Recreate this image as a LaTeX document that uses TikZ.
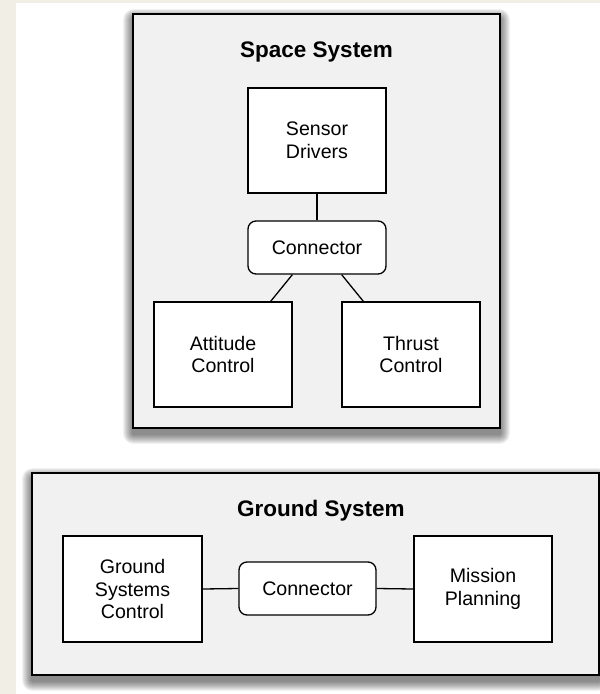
\documentclass[tikz,border=0pt]{standalone}
\usepackage{fontspec}
\setmainfont{Liberation Sans}
\usetikzlibrary{calc,backgrounds}
\definecolor{cream}{HTML}{F1EFE5}
\definecolor{panel}{HTML}{F1F1F1}
\tikzset{
  outerbox/.style={draw=black, line width=1.6pt, fill=panel, inner sep=0pt},
  compbox/.style={draw=black, line width=1.3pt, fill=white, inner sep=0pt, align=center,
    font=\fontsize{19.6}{22.8}\selectfont},
  connbox/.style={compbox, rounded corners=8pt},
  title/.style={font=\fontsize{22.5}{26}\selectfont\bfseries},
  link/.style={draw=black, line width=1.3pt},
  shadowlayer/.style={fill=black, fill opacity=0.055}
}
\newcommand{\boxshadow}[1]{%
  \foreach \k in {1,...,10}{%
    \fill[shadowlayer, rounded corners=\k pt] ($(#1.north west)+(-\k+1,6-\k)$) rectangle ($(#1.south east)+(\k-1,5+\k)$);
  }%
}
\begin{document}
\begin{tikzpicture}[x=1pt,y=-1pt]
\useasboundingbox (0,0) rectangle (600,694);
% Space system
\node[outerbox, minimum width=367pt, minimum height=414pt] (space) at (316.5,221) {};
\node[title] (spacet) at (316.5,52) {Space System};
\node[compbox, minimum width=138pt, minimum height=105pt] (sensor) at (317,140.5) {Sensor\\Drivers};
\node[connbox, minimum width=138pt, minimum height=53pt] (conn1) at (317,247.5) {Connector};
\node[compbox, minimum width=138pt, minimum height=105pt] (att) at (223,354.5) {Attitude\\Control};
\node[compbox, minimum width=138pt, minimum height=105pt] (thr) at (411,354.5) {Thrust\\Control};
\draw[link] (sensor.south) -- (conn1.north);
\draw[link] ($(conn1.south west)+(45,0)$) -- ($(att.north east)+(-22,0)$);
\draw[link] ($(conn1.south east)+(-45,0)$) -- ($(thr.north west)+(22,0)$);
% Ground system
\node[outerbox, minimum width=567pt, minimum height=202pt] (ground) at (315.5,574) {};
\node[title] (groundt) at (321,511) {Ground System};
\node[compbox, minimum width=139pt, minimum height=106pt] (gsc) at (132.5,589) {Ground\\Systems\\Control};
\node[connbox, minimum width=137pt, minimum height=53pt] (conn2) at (307.5,588.5) {Connector};
\node[compbox, minimum width=138pt, minimum height=106pt] (mp) at (483,589) {Mission\\Planning};
\draw[link] (gsc.east) -- (conn2.west);
\draw[link] (conn2.east) -- (mp.west);
\begin{scope}[on background layer]
  \fill[cream] (0,0) rectangle (600,694);
  \fill[white] (16,3) rectangle (600,694);
  \boxshadow{space}
  \boxshadow{ground}
\end{scope}
\end{tikzpicture}
\end{document}
